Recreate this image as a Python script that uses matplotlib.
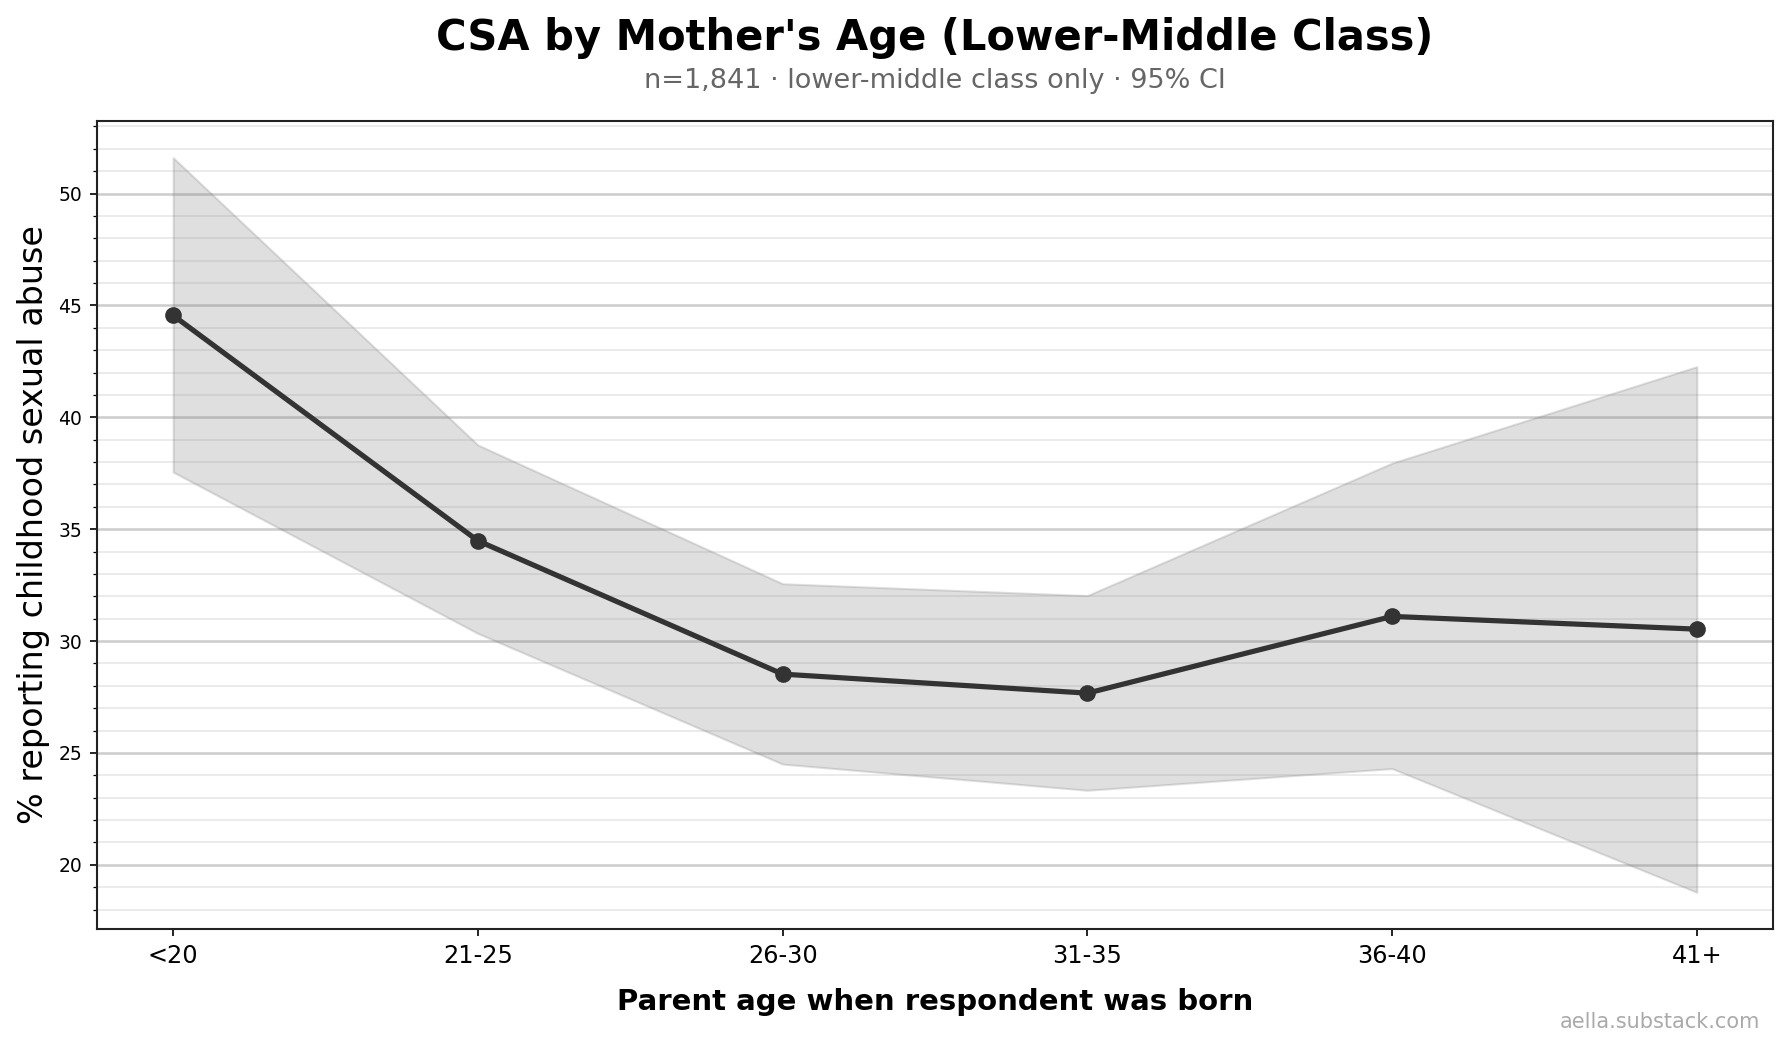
import matplotlib.pyplot as plt
from matplotlib.ticker import MultipleLocator

# parent age buckets and CSA rates (%), with 95% CI bounds
age_groups = ["<20", "21-25", "26-30", "31-35", "36-40", "41+"]
csa_rate = [44.55, 34.48, 28.52, 27.67, 31.10, 30.53]
ci_low = [37.55, 30.34, 24.50, 23.33, 24.30, 18.77]
ci_high = [51.60, 38.76, 32.56, 32.03, 37.95, 42.26]

line_colour = "#333333"

fig = plt.figure(figsize=(1788 / 150, 1047 / 150), dpi=150)
ax = fig.add_axes([97 / 1788, 1 - 929 / 1047, (1773 - 97) / 1788, (929 - 121) / 1047])

x = list(range(len(age_groups)))
ax.fill_between(x, ci_low, ci_high, color="gray", alpha=0.25)
ax.plot(x, csa_rate, color=line_colour, lw=2.5, marker="o", markersize=7)

ax.set_xticks(x)
ax.set_xticklabels(age_groups)
ax.yaxis.set_major_locator(MultipleLocator(5))
ax.yaxis.set_minor_locator(MultipleLocator(1))
ax.tick_params(axis="x", labelsize=11.5)
ax.tick_params(axis="y", labelsize=9)

ax.set_axisbelow(True)
ax.grid(axis="y", which="major", color="#cccccc", lw=1.2)
ax.grid(axis="y", which="minor", color="#e8e8e8", lw=0.8)
for s in ax.spines.values():
    s.set_color("#222222")
    s.set_linewidth(1.0)

ax.set_xlabel("Parent age when respondent was born", fontsize=14, fontweight="bold", labelpad=10)
ax.set_ylabel("% reporting childhood sexual abuse", fontsize=16, labelpad=4)

cx = (97 + 1773) / 2 / 1788
fig.text(cx, 1 - 50 / 1047, "CSA by Mother's Age (Lower-Middle Class)",
         fontsize=20, fontweight="bold", ha="center", va="baseline")
fig.text(cx, 1 - 88 / 1047, "n=1,841 \u00b7 lower-middle class only \u00b7 95% CI",
         fontsize=13, color="#666666", ha="center", va="baseline")
fig.text(1760 / 1788, 1 - 1028 / 1047, "aella.substack.com",
         fontsize=10, color="#aaaaaa", ha="right", va="baseline")

fig.savefig("out.png", dpi=150)
